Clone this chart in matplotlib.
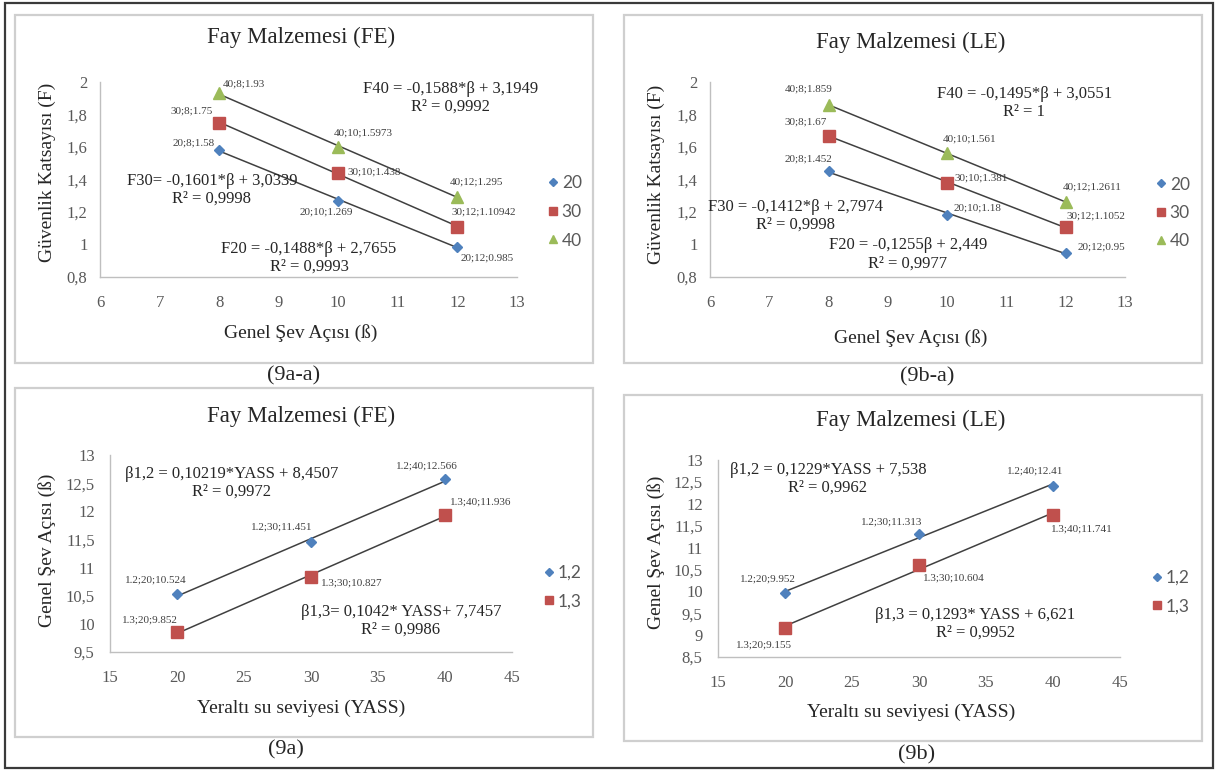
import numpy as np
import matplotlib.pyplot as plt
from matplotlib.patches import Rectangle
from matplotlib.lines import Line2D
from matplotlib.ticker import FuncFormatter

W, H = 1216, 771

# ---- top row: safety factor (F) vs slope angle, per water level ----
beta = [8, 10, 12]
water_levels = [20, 30, 40]
F_FE = [[1.58, 1.269, 0.985],
        [1.75, 1.438, 1.10942],
        [1.93, 1.5973, 1.295]]
F_LE = [[1.452, 1.18, 0.95],
        [1.67, 1.381, 1.1052],
        [1.859, 1.561, 1.2611]]
eq_FE = ["F20 = -0,1488*β + 2,7655\nR² = 0,9993",
         "F30= -0,1601*β + 3,0339\nR² = 0,9998",
         "F40 = -0,1588*β + 3,1949\nR² = 0,9992"]
eq_LE = ["F20 = -0,1255β + 2,449\nR² = 0,9977",
         "F30 = -0,1412*β + 2,7974\nR² = 0,9998",
         "F40 = -0,1495*β + 3,0551\nR² = 1"]

# ---- bottom row: slope angle vs ground water level, per F ----
yass = [20, 30, 40]
f_groups = ["1.2", "1.3"]
f_legend = ["1,2", "1,3"]
B_FE = [[10.524, 11.451, 12.566],
        [9.852, 10.827, 11.936]]
B_LE = [[9.952, 11.313, 12.41],
        [9.155, 10.604, 11.741]]
eqB_FE = ["β1,2 = 0,10219*YASS + 8,4507\nR² = 0,9972",
          "β1,3= 0,1042* YASS+ 7,7457\nR² = 0,9986"]
eqB_LE = ["β1,2 = 0,1229*YASS + 7,538\nR² = 0,9962",
          "β1,3 = 0,1293* YASS + 6,621\nR² = 0,9952"]

colors = ['#4F81BD', '#C0504D', '#9BBB59']
markers = ['D', 's', '^']
msizes = [5.5, 8.5, 8.5]

SERIF = 'Liberation Serif'
TXT = '#262626'

plt.rcParams['font.family'] = SERIF

fig = plt.figure(figsize=(W / 100, H / 100), dpi=100)


def frac(l, t, r, b):
    return [l / W, 1 - b / H, (r - l) / W, (b - t) / H]


def comma(v, pos):
    return ('%g' % v).replace('.', ',')


def panel(ax_box, xlim, xstep, ylim, ystep, ypad, x, series, names, offsets,
          eqs, eq_pos, leg_labels, leg_xy):
    ax = fig.add_axes(frac(*ax_box))
    ax.set_xlim(*xlim)
    ax.set_ylim(*ylim)
    ax.set_xticks(np.arange(xlim[0], xlim[1] + 0.001, xstep))
    ax.set_yticks(np.arange(ylim[0], ylim[1] + 0.001, ystep))
    ax.xaxis.set_major_formatter(FuncFormatter(comma))
    ax.yaxis.set_major_formatter(FuncFormatter(comma))
    ax.tick_params(axis='x', length=0, pad=13, labelsize=12, labelcolor='#595959')
    ax.tick_params(axis='y', length=0, pad=ypad, labelsize=12, labelcolor='#595959')
    for s in ['top', 'right']:
        ax.spines[s].set_visible(False)
    for s in ['left', 'bottom']:
        ax.spines[s].set_color('#bfbfbf')
        ax.spines[s].set_linewidth(1.0)
    ax.patch.set_alpha(0)

    for i, ys in enumerate(series):
        # linear trendline over the data range
        k, c = np.polyfit(x, ys, 1)
        xs = np.array([x[0], x[-1]])
        ax.plot(xs, k * xs + c, color='#404040', lw=1.1, zorder=2)
        ax.plot(x, ys, ls='none', marker=markers[i], ms=msizes[i],
                color=colors[i], mec=colors[i], zorder=3, clip_on=False)
        for j in range(len(x)):
            ax.annotate("{};{};{}".format(names[i], x[j], ys[j]), (x[j], ys[j]),
                        xytext=offsets[i][j], textcoords='offset pixels',
                        ha='center', va='center', fontsize=8, color='#404040')
    for txt, (ex, ey) in zip(eqs, eq_pos):
        ax.text(ex, ey, txt, ha='center', va='center', fontsize=12,
                color=TXT, linespacing=1.15)

    handles = [Line2D([], [], ls='none', marker=markers[i], ms=msizes[i] * 0.75,
                      color=colors[i]) for i in range(len(leg_labels))]
    fig.legend(handles, leg_labels, loc='center left',
               bbox_to_anchor=((leg_xy[0] - 6) / W, 1 - leg_xy[1] / H),
               frameon=False, handlelength=0.7, handletextpad=0.15,
               labelspacing=0.72, borderpad=0, borderaxespad=0,
               prop={'family': 'Lato', 'size': 12.5}, labelcolor='#595959')
    return ax


def fig_text(x, y, s, size, rot=0):
    fig.text(x / W, 1 - y / H, s, ha='center', va='center', fontsize=size,
             color=TXT, rotation=rot)


# outer frame and the four panel boxes
fig.add_artist(Rectangle((5 / W, 1 - 768 / H), 1208 / W, 765 / H, fill=False,
                         ec='#3a3a3a', lw=1.6, transform=fig.transFigure))
for l, t, r, b in [(15, 15, 593, 363), (624, 15, 1202, 363),
                   (15, 388, 593, 737), (624, 395, 1202, 741)]:
    fig.add_artist(Rectangle((l / W, 1 - b / H), (r - l) / W, (b - t) / H,
                             fill=False, ec='#cfcfcf', lw=1.6,
                             transform=fig.transFigure))

# (9a-a)
panel((100, 82, 517, 277), (6, 13), 1, (0.8, 2.0), 0.2, 9, beta, F_FE,
      water_levels,
      [[(-26, 7), (-12, -11), (30, -11)],
       [(-28, 12), (36, 1), (26, 15)],
       [(25, 9), (25, 14), (19, 15)]],
      eq_FE, [(9.51, 0.92), (7.88, 1.338), (11.89, 1.905)],
      [str(w) for w in water_levels], (553, 212))
fig_text(301, 37, "Fay Malzemesi (FE)", 16.5)
fig_text(301, 333, "Genel Şev Açısı (ß)", 14)
fig_text(47, 172, "Güvenlik Katsayısı (F)", 14, 90)
fig_text(294, 376, "(9a-a)", 16)

# (9b-a)
panel((710, 82, 1125, 277), (6, 13), 1, (0.8, 2.0), 0.2, 9, beta, F_LE,
      water_levels,
      [[(-20, 12), (30, 7), (36, 6)],
       [(-23, 14), (34, 5), (30, 11)],
       [(-20, 16), (22, 14), (26, 15)]],
      eq_LE, [(9.34, 0.94), (7.45, 1.178), (11.30, 1.873)],
      [str(w) for w in water_levels], (1161, 213))
fig_text(911, 42, "Fay Malzemesi (LE)", 16.5)
fig_text(911, 338, "Genel Şev Açısı (ß)", 14)
fig_text(656, 174, "Güvenlik Katsayısı (F)", 14, 90)
fig_text(927, 377, "(9b-a)", 16)

# (9a)
panel((110, 455, 512, 652), (15, 45), 5, (9.5, 13), 0.5, 11, yass, B_FE,
      f_groups,
      [[(-21, 14), (-29, 15), (-18, 13)],
       [(-27, 12), (41, -6), (36, 13)]],
      eqB_FE, [(24.1, 12.50), (36.7, 10.05)],
      f_legend, (549, 587))
fig_text(301, 416, "Fay Malzemesi (FE)", 16.5)
fig_text(301, 708, "Yeraltı su seviyesi (YASS)", 14)
fig_text(47, 550, "Genel Şev Açısı (ß)", 14, 90)
fig_text(286, 750, "(9a)", 16)

# (9b)
panel((718, 460, 1120, 657), (15, 45), 5, (8.5, 13), 0.5, 11, yass, B_LE,
      f_groups,
      [[(-17, 14), (-27, 12), (-18, 15)],
       [(-21, -17), (35, -13), (29, -14)]],
      eqB_LE, [(23.2, 12.565), (34.2, 9.255)],
      f_legend, (1157, 592))
fig_text(911, 420, "Fay Malzemesi (LE)", 16.5)
fig_text(911, 712, "Yeraltı su seviyesi (YASS)", 14)
fig_text(656, 552, "Genel Şev Açısı (ß)", 14, 90)
fig_text(917, 755, "(9b)", 16)

fig.savefig("out.png", dpi=100)
